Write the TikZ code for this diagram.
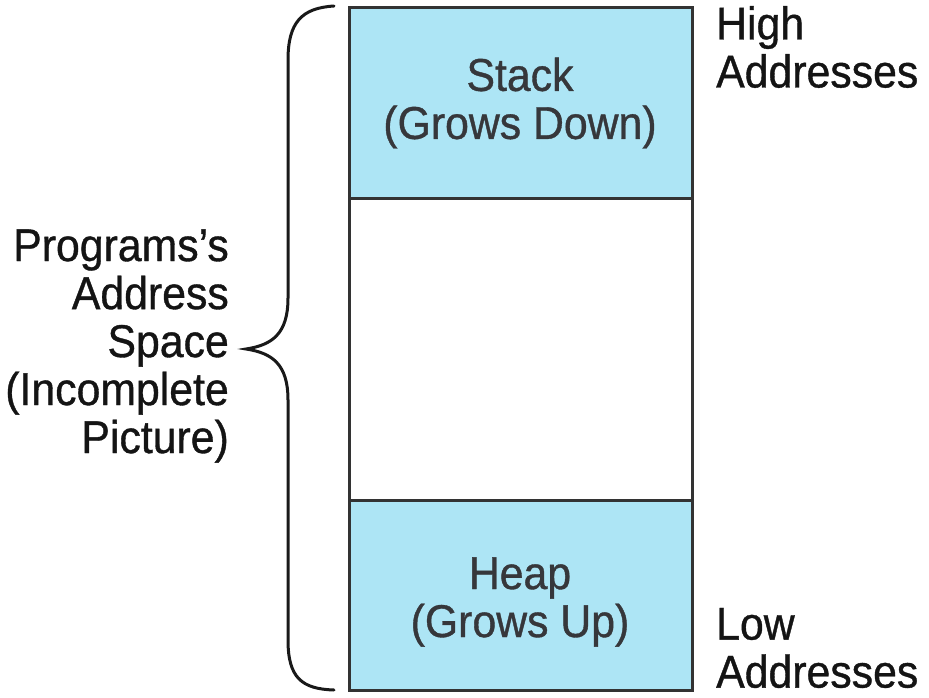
\documentclass[tikz,border=0pt]{standalone}
\usepackage{fontspec}
\setmainfont{Liberation Sans}[FakeStretch=0.93,FakeBold=0.8]
\begin{document}
\begin{tikzpicture}[x=1pt,y=-1pt,
  every node/.style={font=\fontsize{46}{48}\selectfont, inner sep=0pt},
  region/.style={draw=black!80, line width=3pt},
  lbl/.style={text=black!92},
  boxlbl/.style={text=black!88!cyan, align=center}]
\definecolor{memfill}{HTML}{ADE5F5}
\useasboundingbox (0,0) rectangle (929,698);
% regions
\draw[region, fill=memfill] (349,8) rectangle (692,198);
\draw[region, fill=white] (349,198) rectangle (692,500);
\draw[region, fill=memfill] (349,500) rectangle (692,690);
\node[boxlbl] (stack) at (520,103) {Stack\\(Grows Down)};
\node[boxlbl] (heap) at (520,602) {Heap\\(Grows Up)};
\node[lbl, align=left, anchor=west] (high) at (716,47) {High\\Addresses};
\node[lbl, align=left, anchor=west] (low) at (716,648) {Low\\Addresses};
\node[lbl, align=right, anchor=east] (space) at (229,346) {Programs's\\Address\\Space\\(Incomplete\\Picture)};
% brace
\coordinate (tip) at (246,349);
\draw[line width=3pt, black!90, line cap=round]
  (334,6) .. controls (302,8) and (288,22) .. (288,60) -- (288,298)
  .. controls (288,334) and (272,345) .. (tip)
  .. controls (272,353) and (288,364) .. (288,400) -- (288,640)
  .. controls (288,678) and (302,689) .. (334,690);
\end{tikzpicture}
\end{document}
